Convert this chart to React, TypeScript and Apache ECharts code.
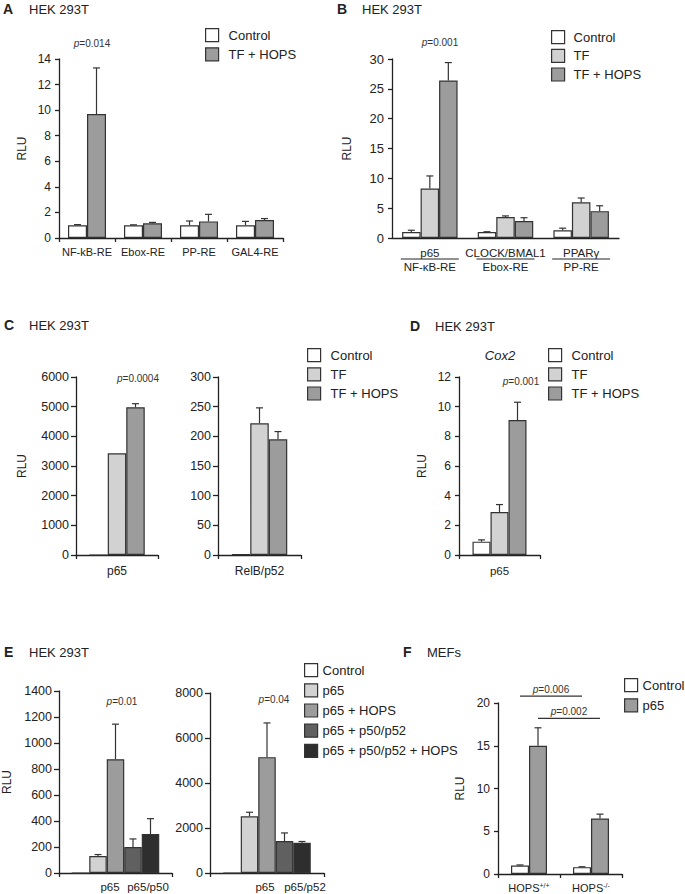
import { useEffect, useRef } from 'react';
import * as echarts from 'echarts';

const FONT = '"Liberation Sans", Arial, Helvetica, sans-serif';
const INK = '#222222';
const EDGE = '#333333';
const WHITE = '#ffffff';
const LIGHT = '#d2d2d2';
const MID = '#9c9c9c';
const DARK = '#606060';
const BLACK = '#2e2e2e';

// ---------- Panel A ----------
const aCategories = ['NF-kB-RE', 'Ebox-RE', 'PP-RE', 'GAL4-RE'];
const aControl = [1.0, 1.0, 1.0, 1.0];
const aControlErr = [1.05, 1.03, 1.33, 1.3];
const aTfHops = [9.7, 1.15, 1.3, 1.4];
const aTfHopsErr = [13.3, 1.22, 1.85, 1.52];

// ---------- Panel B ----------
const bCategories = ['p65', 'CLOCK/BMAL1', 'PPARγ'];
const bSubLabels = ['NF-κB-RE', 'Ebox-RE', 'PP-RE'];
const bControl = [1.0, 1.0, 1.3];
const bControlErr = [1.3, 1.05, 1.65];
const bTf = [8.3, 3.5, 6.0];
const bTfErr = [10.4, 3.7, 6.7];
const bTfHops = [26.4, 2.85, 4.5];
const bTfHopsErr = [29.4, 3.4, 5.4];

// ---------- Panel C ----------
const c1Categories = ['p65'];
const c1Control = [0];
const c1Tf = [3430];
const c1TfHops = [4980];
const c1TfHopsErr = [5100];
const c2Categories = ['RelB/p52'];
const c2Control = [1];
const c2Tf = [222];
const c2TfErr = [248];
const c2TfHops = [195];
const c2TfHopsErr = [208];

// ---------- Panel D ----------
const dCategories = ['p65'];
const dControl = [0.9];
const dControlErr = [1.02];
const dTf = [2.9];
const dTfErr = [3.4];
const dTfHops = [9.1];
const dTfHopsErr = [10.3];

// ---------- Panel E ----------
const eCategories = [''];
const e1Control = [0];
const e1P65 = [130];
const e1P65Err = [142];
const e1P65Hops = [875];
const e1P65HopsErr = [1145];
const e1P50 = [200];
const e1P50Err = [262];
const e1P50Hops = [300];
const e1P50HopsErr = [418];
const e2Control = [0];
const e2P65 = [2520];
const e2P65Err = [2700];
const e2P65Hops = [5150];
const e2P65HopsErr = [6670];
const e2P52 = [1420];
const e2P52Err = [1780];
const e2P52Hops = [1340];
const e2P52HopsErr = [1400];

// ---------- Panel F ----------
const fCategories = ['HOPS+/+', 'HOPS-/-'];
const fControl = [1.0, 0.8];
const fControlErr = [1.06, 0.85];
const fP65 = [15.0, 6.5];
const fP65Err = [17.1, 7.0];
const fSigFrom = [0, 0];
const fSigTo = [1, 1];
const fSigBar = [0, 1];
const fSigY = [20.8, 18.2];
const fSigLabels = ['p=0.006', 'p=0.002'];

type Bar = { name: string; color: string; values: number[]; errs?: number[] };
type Panel = {
  grid: { left: number; top: number; width: number; height: number };
  categories: string[];
  yMax: number;
  yInterval: number;
  barWidth: number;
  bars: Bar[];
  yFont: number;
  xFont: number;
  xMargin: number;
  yMargin: number;
  tickLen: number;
  xTicks: boolean;
  xLabels: boolean;
  rlu: boolean;
  nameGap: number;
  xFormatter?: any;
  xRich?: any;
};

const panels: Panel[] = [
  {
    grid: { left: 59, top: 59, width: 224, height: 179 },
    categories: aCategories, yMax: 14, yInterval: 2, barWidth: 19,
    bars: [
      { name: 'Control', color: WHITE, values: aControl, errs: aControlErr },
      { name: 'TF + HOPS', color: MID, values: aTfHops, errs: aTfHopsErr },
    ],
    yFont: 12, xFont: 11, xMargin: 8, yMargin: 8, tickLen: 4, xTicks: true, xLabels: true, rlu: true, nameGap: 31,
  },
  {
    grid: { left: 392, top: 59, width: 227, height: 179 },
    categories: bCategories, yMax: 30, yInterval: 5, barWidth: 18.5,
    bars: [
      { name: 'Control', color: WHITE, values: bControl, errs: bControlErr },
      { name: 'TF', color: LIGHT, values: bTf, errs: bTfErr },
      { name: 'TF + HOPS', color: MID, values: bTfHops, errs: bTfHopsErr },
    ],
    yFont: 13, xFont: 11.5, xMargin: 8, yMargin: 8, tickLen: 4, xTicks: false, xLabels: true, rlu: true, nameGap: 39,
    xFormatter: (v: string, i: number) => `{t|${v}}\n{b|${bSubLabels[i]}}`,
    xRich: {
      t: { fontSize: 11.5, lineHeight: 14, fontFamily: FONT, color: INK },
      b: { fontSize: 11.5, lineHeight: 14, fontFamily: FONT, color: INK },
    },
  },
  {
    grid: { left: 76, top: 377, width: 82, height: 178 },
    categories: c1Categories, yMax: 6000, yInterval: 1000, barWidth: 18.5,
    bars: [
      { name: 'Control', color: WHITE, values: c1Control },
      { name: 'TF', color: LIGHT, values: c1Tf },
      { name: 'TF + HOPS', color: MID, values: c1TfHops, errs: c1TfHopsErr },
    ],
    yFont: 12.5, xFont: 12, xMargin: 10, yMargin: 7, tickLen: 5, xTicks: true, xLabels: true, rlu: true, nameGap: 48,
  },
  {
    grid: { left: 218, top: 377, width: 83, height: 178 },
    categories: c2Categories, yMax: 300, yInterval: 50, barWidth: 18.5,
    bars: [
      { name: 'Control', color: WHITE, values: c2Control },
      { name: 'TF', color: LIGHT, values: c2Tf, errs: c2TfErr },
      { name: 'TF + HOPS', color: MID, values: c2TfHops, errs: c2TfHopsErr },
    ],
    yFont: 12.5, xFont: 12, xMargin: 10, yMargin: 7, tickLen: 5, xTicks: true, xLabels: true, rlu: false, nameGap: 40,
  },
  {
    grid: { left: 459, top: 377, width: 81, height: 178 },
    categories: dCategories, yMax: 12, yInterval: 2, barWidth: 18,
    bars: [
      { name: 'Control', color: WHITE, values: dControl, errs: dControlErr },
      { name: 'TF', color: LIGHT, values: dTf, errs: dTfErr },
      { name: 'TF + HOPS', color: MID, values: dTfHops, errs: dTfHopsErr },
    ],
    yFont: 12, xFont: 11.5, xMargin: 10, yMargin: 8, tickLen: 4, xTicks: true, xLabels: true, rlu: true, nameGap: 31,
  },
  {
    grid: { left: 58, top: 691, width: 114, height: 182 },
    categories: eCategories, yMax: 1400, yInterval: 200, barWidth: 17.5,
    bars: [
      { name: 'Control', color: WHITE, values: e1Control },
      { name: 'p65', color: LIGHT, values: e1P65, errs: e1P65Err },
      { name: 'p65 + HOPS', color: MID, values: e1P65Hops, errs: e1P65HopsErr },
      { name: 'p65 + p50/p52', color: DARK, values: e1P50, errs: e1P50Err },
      { name: 'p65 + p50/p52 + HOPS', color: BLACK, values: e1P50Hops, errs: e1P50HopsErr },
    ],
    yFont: 12.5, xFont: 11.5, xMargin: 10, yMargin: 7, tickLen: 5, xTicks: true, xLabels: false, rlu: true, nameGap: 46,
  },
  {
    grid: { left: 210, top: 693, width: 114, height: 180 },
    categories: eCategories, yMax: 8000, yInterval: 2000, barWidth: 17.5,
    bars: [
      { name: 'Control', color: WHITE, values: e2Control },
      { name: 'p65', color: LIGHT, values: e2P65, errs: e2P65Err },
      { name: 'p65 + HOPS', color: MID, values: e2P65Hops, errs: e2P65HopsErr },
      { name: 'p65 + p50/p52', color: DARK, values: e2P52, errs: e2P52Err },
      { name: 'p65 + p50/p52 + HOPS', color: BLACK, values: e2P52Hops, errs: e2P52HopsErr },
    ],
    yFont: 12.5, xFont: 11.5, xMargin: 10, yMargin: 7, tickLen: 5, xTicks: true, xLabels: false, rlu: false, nameGap: 40,
  },
  {
    grid: { left: 498, top: 703, width: 124, height: 171 },
    categories: fCategories, yMax: 20, yInterval: 5, barWidth: 18,
    bars: [
      { name: 'Control', color: WHITE, values: fControl, errs: fControlErr },
      { name: 'p65', color: MID, values: fP65, errs: fP65Err },
    ],
    yFont: 12, xFont: 11, xMargin: 8, yMargin: 8, tickLen: 4, xTicks: true, xLabels: true, rlu: true, nameGap: 32,
    xFormatter: (v: string) => `HOPS{s|${v.slice(4)}}`,
    xRich: { s: { fontSize: 7, fontFamily: FONT, color: INK, padding: [0, 0, 5, 0] } },
  },
];

function errRender(barIdx: number, n: number, bw: number) {
  return (params: any, api: any) => {
    const cat = api.value(0);
    const top = api.value(1);
    const val = api.value(2);
    const p0 = api.coord([cat, val]);
    const p1 = api.coord([cat, top]);
    const x = p0[0] + (barIdx - (n - 1) / 2) * bw;
    const st = { stroke: EDGE, lineWidth: 1.2 };
    return {
      type: 'group',
      children: [
        { type: 'line', shape: { x1: x, y1: p0[1], x2: x, y2: p1[1] }, style: st },
        { type: 'line', shape: { x1: x - 3.5, y1: p1[1], x2: x + 3.5, y2: p1[1] }, style: st },
      ],
    };
  };
}

function legendItems(items: [string, string][]) {
  return items.map(([name, color]) => ({ name, itemStyle: { color, borderColor: EDGE, borderWidth: 1.2 } }));
}

function makeLegend(left: number, top: number, gap: number, textPad: number, items: [string, string][]) {
  return {
    left, top, orient: 'vertical', itemWidth: 13, itemHeight: 13, itemGap: gap, padding: 0,
    selectedMode: false, icon: 'rect',
    itemStyle: { borderColor: EDGE, borderWidth: 1.2 },
    textStyle: { fontSize: 13, color: INK, fontFamily: FONT, lineHeight: 13, padding: [0, 0, 0, textPad] },
    data: legendItems(items),
  };
}

function pText(x: number, y: number, label: string, size = 10) {
  return {
    type: 'text', x, y,
    style: {
      text: `{i|p}${label.slice(1)}`,
      fontSize: size, fontFamily: FONT, fill: '#333',
      align: 'center', verticalAlign: 'middle', textAlign: 'center', textVerticalAlign: 'middle',
      rich: { i: { fontStyle: 'italic', fontSize: size, fontFamily: FONT, fill: '#333' } },
    },
  };
}

function plainText(x: number, y: number, text: string, size: number, extra: any = {}) {
  return {
    type: 'text', x, y,
    style: {
      text, fontSize: size, fontFamily: FONT, fill: INK,
      align: 'left', verticalAlign: 'middle', textAlign: 'left', textVerticalAlign: 'middle',
      ...extra,
    },
  };
}

function buildOption() {
  const grid: any[] = [];
  const xAxis: any[] = [];
  const yAxis: any[] = [];
  const series: any[] = [];
  panels.forEach((p, gi) => {
    grid.push({ ...p.grid, containLabel: false });
    xAxis.push({
      type: 'category', gridIndex: gi, data: p.categories,
      axisLine: { show: true, lineStyle: { color: INK, width: 1.3 } },
      axisTick: { show: p.xTicks, length: 4, lineStyle: { color: INK, width: 1.3 } },
      axisLabel: {
        show: p.xLabels, interval: 0, fontSize: p.xFont, color: INK, fontFamily: FONT,
        margin: p.xMargin, formatter: p.xFormatter, rich: p.xRich,
      },
      splitLine: { show: false },
    });
    yAxis.push({
      type: 'value', gridIndex: gi, min: 0, max: p.yMax, interval: p.yInterval,
      axisLine: { show: true, lineStyle: { color: INK, width: 1.3 } },
      axisTick: { show: true, length: p.tickLen, lineStyle: { color: INK, width: 1.3 } },
      axisLabel: {
        fontSize: p.yFont, color: INK, fontFamily: FONT, margin: p.yMargin,
        formatter: (v: number) => String(v),
      },
      splitLine: { show: false },
      name: p.rlu ? 'RLU' : '', nameLocation: 'middle', nameGap: p.nameGap,
      nameTextStyle: { fontSize: 12, color: INK, fontFamily: FONT },
    });
    const n = p.bars.length;
    p.bars.forEach((b) => {
      series.push({
        type: 'bar', name: b.name, xAxisIndex: gi, yAxisIndex: gi, data: b.values,
        barWidth: p.barWidth, barGap: '0%', silent: true,
        itemStyle: { color: b.color, borderColor: EDGE, borderWidth: 1.2 },
      });
    });
    p.bars.forEach((b, bi) => {
      if (!b.errs) return;
      const data = b.errs.map((e, i) => [i, e, b.values[i]]).filter((d) => d[1] > d[2]);
      series.push({
        type: 'custom', xAxisIndex: gi, yAxisIndex: gi, data, encode: { x: 0, y: 1 },
        renderItem: errRender(bi, n, p.barWidth), silent: true, z: 3,
      });
    });
  });

  // Panel F significance brackets
  const fIdx = 7;
  const fPanel = panels[fIdx];
  series.push({
    type: 'custom', xAxisIndex: fIdx, yAxisIndex: fIdx, silent: true, z: 4,
    data: fSigY.map((y, i) => [fSigFrom[i], y, fSigTo[i], fSigBar[i], i]),
    encode: { x: 0, y: 1 },
    renderItem: (params: any, api: any) => {
      const from = api.value(0);
      const y = api.value(1);
      const to = api.value(2);
      const bar = api.value(3);
      const idx = api.value(4);
      const off = (bar - (fPanel.bars.length - 1) / 2) * fPanel.barWidth;
      const a = api.coord([from, y]);
      const b = api.coord([to, y]);
      const label = fSigLabels[idx];
      return {
        type: 'group',
        children: [
          { type: 'line', shape: { x1: a[0] + off, y1: a[1], x2: b[0] + off, y2: b[1] }, style: { stroke: EDGE, lineWidth: 1.2 } },
          {
            type: 'text',
            style: {
              text: `{i|p}${label.slice(1)}`, x: (a[0] + b[0]) / 2 + off, y: a[1] - 2,
              fontSize: 10, fontFamily: FONT, fill: '#333', align: 'center', verticalAlign: 'bottom',
              rich: { i: { fontStyle: 'italic', fontSize: 10, fontFamily: FONT, fill: '#333' } },
            },
          },
        ],
      };
    },
  });

  const legend = [
    makeLegend(205, 28, 5, 5, [['Control', WHITE], ['TF + HOPS', MID]]),
    makeLegend(551, 30, 4.5, 4, [['Control', WHITE], ['TF', LIGHT], ['TF + HOPS', MID]]),
    makeLegend(307, 348, 5, 5, [['Control', WHITE], ['TF', LIGHT], ['TF + HOPS', MID]]),
    makeLegend(548, 348, 5, 5, [['Control', WHITE], ['TF', LIGHT], ['TF + HOPS', MID]]),
    makeLegend(304, 663, 6, 0, [['Control', WHITE], ['p65', LIGHT], ['p65 + HOPS', MID], ['p65 + p50/p52', DARK], ['p65 + p50/p52 + HOPS', BLACK]]),
    makeLegend(624, 678, 6, 0, [['Control', WHITE], ['p65', MID]]),
  ];

  // B underlines between the two label rows
  const bg = panels[1].grid;
  const underlines = bCategories.map((_, i) => {
    const cx = bg.left + ((i + 0.5) * bg.width) / bCategories.length;
    return { type: 'line', shape: { x1: cx - 29, y1: 259, x2: cx + 29, y2: 259 }, style: { stroke: INK, lineWidth: 1 } };
  });

  const graphic = [
    plainText(3, 9, 'A', 14, { fontWeight: 'bold' }),
    plainText(29, 9, 'HEK 293T', 13),
    plainText(337, 9, 'B', 14, { fontWeight: 'bold' }),
    plainText(362, 9, 'HEK 293T', 13),
    plainText(4, 325, 'C', 14, { fontWeight: 'bold' }),
    plainText(29, 325, 'HEK 293T', 13),
    plainText(410, 326, 'D', 14, { fontWeight: 'bold' }),
    plainText(435, 326, 'HEK 293T', 13),
    plainText(4, 652, 'E', 14, { fontWeight: 'bold' }),
    plainText(29, 652, 'HEK 293T', 13),
    plainText(403, 652, 'F', 14, { fontWeight: 'bold' }),
    plainText(427, 652, 'MEFs', 13),
    plainText(500, 355, 'Cox2', 13, { fontStyle: 'italic', align: 'center', textAlign: 'center' }),
    pText(92, 43, 'p=0.014'),
    pText(440, 42, 'p=0.001'),
    pText(138, 378, 'p=0.0004'),
    pText(521, 381, 'p=0.001'),
    pText(122, 701, 'p=0.01'),
    pText(274, 699, 'p=0.04'),
    plainText(110, 887, 'p65', 11.5, { align: 'center', textAlign: 'center' }),
    plainText(148, 887, 'p65/p50', 11.5, { align: 'center', textAlign: 'center' }),
    plainText(265, 887, 'p65', 11.5, { align: 'center', textAlign: 'center' }),
    plainText(305, 887, 'p65/p52', 11.5, { align: 'center', textAlign: 'center' }),
    ...underlines,
  ];

  return {
    animation: false,
    backgroundColor: '#ffffff',
    textStyle: { fontFamily: FONT },
    grid, xAxis, yAxis, series, legend, graphic,
  };
}

export default function App() {
  const ref = useRef<HTMLDivElement>(null);
  useEffect(() => {
    if (!ref.current) return;
    const chart = echarts.init(ref.current, undefined, { renderer: 'svg' });
    chart.setOption(buildOption() as any);
    return () => chart.dispose();
  }, []);
  return (
    <div
      ref={ref}
      style={{ position: 'absolute', left: 0, top: 0, width: 685, height: 894, background: '#ffffff' }}
    />
  );
}
